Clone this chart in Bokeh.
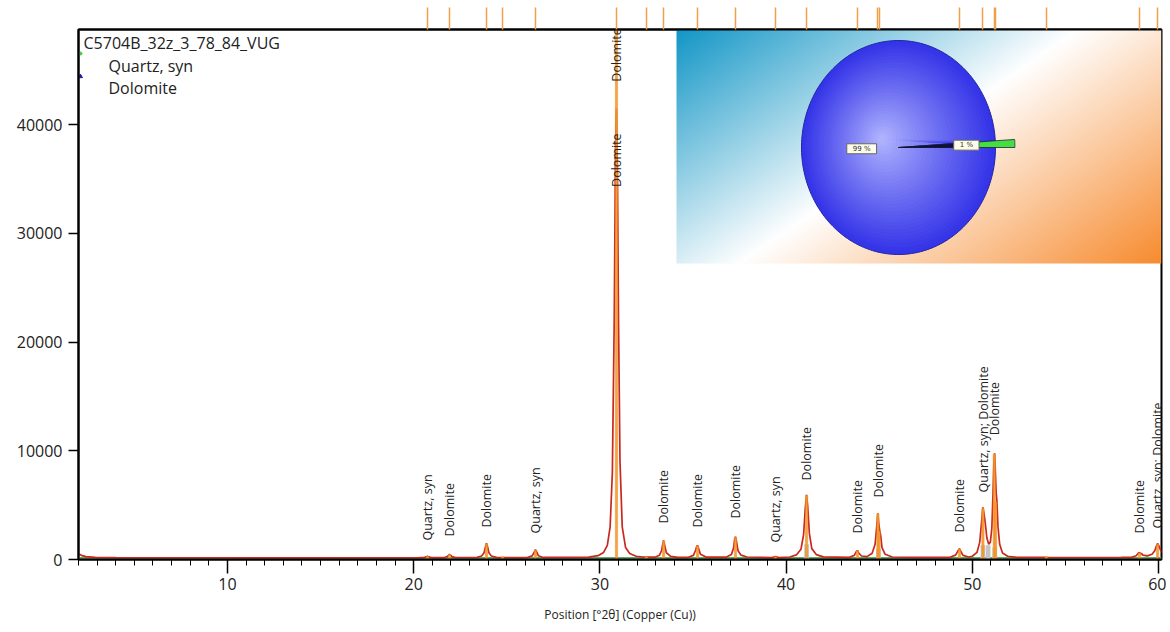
import numpy as np
from bokeh.plotting import figure
from bokeh.models import (Range1d, LinearAxis, FixedTicker, Label, LabelSet, ColumnDataSource,
                          PrintfTickFormatter, CustomJSTickFormatter)
from bokeh.core.properties import value
from bokeh.embed import file_html
from bokeh.resources import INLINE

# ---------------- data ----------------
sample_name = "C5704B_32z_3_78_84_VUG"
phase_names = ["Quartz, syn", "Dolomite"]

pattern_x = [
    2.0, 2.15, 2.4, 2.9, 4.0, 7.0, 10.0, 14.0, 18.0, 20.3,
    20.55, 20.67, 20.74, 20.81, 20.95,
    21.65, 21.8, 21.87, 21.92, 21.98, 22.06, 22.25,
    23.4, 23.65, 23.78, 23.85, 23.91, 23.97, 24.04, 24.17, 24.45,
    25.5,
    26.1, 26.36, 26.46, 26.54, 26.61, 26.7, 26.95,
    28.5, 29.4,
    29.9, 30.2, 30.4, 30.55, 30.67, 30.77, 30.84, 30.89, 30.94, 31.0, 31.08, 31.2, 31.38, 31.6, 31.95, 32.3,
    32.95, 33.2, 33.32, 33.38, 33.42, 33.48, 33.57, 33.8, 34.2,
    34.75, 35.02, 35.14, 35.2, 35.24, 35.3, 35.4, 35.7,
    36.8, 37.06, 37.18, 37.24, 37.28, 37.33, 37.42, 37.58, 37.9,
    39.25, 39.43, 39.6,
    40.2, 40.55, 40.8, 40.94, 41.03, 41.1, 41.16, 41.25, 41.38, 41.62, 42.0,
    43.4, 43.66, 43.77, 43.83, 43.9, 44.05,
    44.35, 44.62, 44.78, 44.87, 44.93, 44.98, 45.03, 45.08, 45.15, 45.32, 45.7,
    47.0,
    48.8, 49.1, 49.23, 49.31, 49.38, 49.5, 49.8,
    50.0, 50.25, 50.4, 50.5, 50.57, 50.63, 50.7, 50.78, 50.88, 50.97, 51.05, 51.11, 51.16, 51.2, 51.24,
    51.28, 51.32, 51.38, 51.47, 51.62, 51.9, 52.4,
    54.0, 56.0, 58.0,
    58.55, 58.8, 58.92, 58.98, 59.03, 59.08, 59.16, 59.4,
    59.65, 59.8, 59.9, 59.95, 60.02, 60.1, 60.2,
]
pattern_y = [
    560, 380, 260, 190, 165, 160, 160, 155, 160, 165,
    180, 240, 300, 240, 180,
    180, 260, 380, 470, 400, 270, 185,
    190, 320, 620, 1100, 1500, 1150, 620, 320, 200,
    170,
    180, 330, 620, 900, 680, 340, 190,
    190, 220,
    350, 650, 1300, 3000, 8000, 22000, 38000, 41500, 36000, 22000, 9000, 3000, 1100, 550, 300, 230,
    210, 400, 850, 1450, 1750, 1300, 620, 280, 200,
    200, 380, 850, 1200, 1300, 1000, 480, 220,
    220, 450, 1050, 1900, 2100, 1700, 800, 400, 230,
    175, 260, 175,
    230, 420, 950, 2300, 4700, 5950, 4900, 2400, 1000, 450, 240,
    200, 380, 720, 830, 600, 320,
    260, 580, 1400, 3100, 4240, 3200, 2650, 2200, 1100, 480, 230,
    190,
    200, 400, 780, 1000, 760, 380, 230,
    300, 650, 1600, 3500, 4800, 4200, 3300, 2000, 1400, 1600, 2900, 6000, 9000, 9770, 8000,
    6200, 5400, 3000, 1400, 600, 300, 200,
    190, 185, 190,
    200, 340, 600, 650, 520, 560, 400, 330,
    480, 800, 1300, 1470, 1250, 900, 650,
]
assert len(pattern_x) == len(pattern_y)

background_x = [2.0, 60.16]
background_y = [140, 140]

ref_pos = [20.74, 21.92, 23.91, 24.77, 26.54, 30.89, 32.50, 33.42, 35.24, 37.28, 39.43,
           41.10, 43.83, 44.93, 44.99, 49.31, 50.57, 51.18, 51.25, 53.97, 58.98, 59.95]
ref_int = [280, 450, 1450, 250, 850, 48760, 250, 1700, 1250, 2050, 250,
           5900, 800, 4200, 2600, 950, 4700, 9700, 5300, 250, 600, 1400]

grey_pos = [41.10, 44.96, 50.57, 50.85, 51.20]
grey_int = [1400, 1000, 1300, 1300, 1100]

label_pos = [20.74, 21.92, 23.91, 26.54, 30.89, 30.89, 33.42, 35.24, 37.28, 39.43,
             41.10, 43.83, 44.96, 49.31, 50.58, 51.20, 58.98, 59.95]
label_text = ["Quartz, syn", "Dolomite", "Dolomite", "Quartz, syn", "Dolomite", "Dolomite",
              "Dolomite", "Dolomite", "Dolomite", "Quartz, syn", "Dolomite", "Dolomite",
              "Dolomite", "Dolomite", "Quartz, syn; Dolomite", "Dolomite", "Dolomite",
              "Quartz, syn; Dolomite"]
label_y = [270, 640, 1470, 920, 42490, 32810, 1840, 1470, 2300, 90,
           5800, 920, 4230, 1010, 4700, 9950, 920, 1380]

pie_share = [99, 1]
pie_text = ["99 %", "1 %"]

x_ticks = [10, 20, 30, 40, 50, 60]
y_ticks = [0, 10000, 20000, 30000, 40000]

# ---------------- geometry ----------------
X0, X1 = 2.0, 60.16
Y0, Y1 = 0, 48760
FL, FR, FT, FB = 78, 1161, 29, 559   # frame edges in picture px


def X(px):
    return X0 + (px - FL) * (X1 - X0) / (FR - FL)


def Y(py):
    return Y0 + (FB - py) * (Y1 - Y0) / (FB - FT)


FONT = "Open Sans"

p = figure(width=1166, height=630, x_range=Range1d(X0, X1), y_range=Range1d(Y0, Y1),
           output_backend="svg", toolbar_location=None,
           min_border_left=FL, min_border_right=1166 - FR, min_border_top=FT,
           min_border_bottom=630 - FB)
p.xgrid.visible = False
p.ygrid.visible = False
p.outline_line_color = "black"
p.outline_line_width = 2
p.outline_line_alpha = 1
p.background_fill_color = "white"
p.border_fill_color = "white"

# x axis
p.xaxis.ticker = FixedTicker(ticks=x_ticks, minor_ticks=list(range(2, 61)))
p.xaxis.major_tick_out = 14
p.xaxis.major_tick_in = 0
p.xaxis.minor_tick_out = 6
p.xaxis.minor_tick_in = 0
p.xaxis.axis_line_width = 2
p.xaxis.major_tick_line_width = 1.5
p.xaxis.major_label_text_font = FONT
p.xaxis.major_label_text_font_size = "16px"
p.xaxis.major_label_text_color = "#222222"
p.xaxis.major_label_standoff = 4
p.xaxis.axis_label = "Position [°2θ] (Copper (Cu))"
p.xaxis.axis_label_text_font = FONT
p.xaxis.axis_label_text_font_size = "12px"
p.xaxis.axis_label_text_font_style = "normal"
p.xaxis.axis_label_text_color = "#222222"
p.xaxis.axis_label_standoff = 13

# y axis
p.yaxis.ticker = FixedTicker(ticks=y_ticks)
p.yaxis.formatter = PrintfTickFormatter(format="%d")
p.yaxis.major_tick_out = 10
p.yaxis.major_tick_in = 0
p.yaxis.minor_tick_line_color = None
p.yaxis.axis_line_width = 2
p.yaxis.major_tick_line_width = 1.5
p.yaxis.major_label_text_font = FONT
p.yaxis.major_label_text_font_size = "16px"
p.yaxis.major_label_text_color = "#222222"
p.yaxis.major_label_standoff = 6

# top reference tick marks (no labels)
top_axis = LinearAxis(ticker=FixedTicker(ticks=ref_pos), major_tick_out=22, major_tick_in=0,
                      minor_tick_line_color=None,
                      formatter=CustomJSTickFormatter(code="return ''"),
                      major_label_text_font_size="1px",
                      major_label_standoff=0, major_tick_line_color="#f0a048",
                      major_tick_line_width=1.5, axis_line_color="black", axis_line_width=2)
p.add_layout(top_axis, "above")

# ---------------- pattern ----------------
p.line(background_x, background_y, color="#62a862", line_width=2)
p.vbar(x=grey_pos, top=grey_int, bottom=0, width=0.25, fill_color="#c4c4c4", line_color=None)
p.line(pattern_x, pattern_y, color="#c8281e", line_width=1.7)
p.vbar(x=ref_pos, top=ref_int, bottom=0, width=0.12, fill_color="#f39a2e",
       line_color="#f08a20", line_width=0.5, fill_alpha=0.9)

# ---------------- inset: gradient background ----------------
IL, IB = 676, 263
H, W = 117, 243
cols = (np.arange(W) + 0.5) * (FR - IL) / W
rows = (np.arange(H) + 0.5) * (IB - FT) / H
PX, PY = np.meshgrid(IL + cols, IB - rows)
t = (PX - IL) * 234 + (PY - FT) * 340
t = t / t.max()
tw = 0.49
teal = np.array([18, 150, 198], dtype=float)
orange = np.array([247, 140, 48], dtype=float)
white = np.array([255, 255, 255], dtype=float)
s1 = np.clip(t / tw, 0, 1)[..., None]
s2 = np.clip((t - tw) / (1 - tw), 0, 1)[..., None]
rgb = np.where(t[..., None] < tw, teal + (white - teal) * s1, white + (orange - white) * s2)
rgba = np.empty((H, W, 4), dtype=np.uint8)
rgba[..., :3] = np.clip(rgb, 0, 255).astype(np.uint8)
rgba[..., 3] = 255
img = rgba.view(dtype=np.uint32).reshape((H, W))
p.image_rgba(image=[img], x=X(IL), y=Y(IB), dw=X(FR) - X(IL), dh=Y(FT) - Y(IB))

# ---------------- inset: pie ----------------
CX, CY, RX, RY = 898, 147, 97, 107
p.extra_x_ranges = {"pie_x": Range1d((FL - CX) / RX, (FR - CX) / RX)}
p.extra_y_ranges = {"pie_y": Range1d(-(FB - CY) / RY, (CY - FT) / RY)}

fracs = np.array(pie_share, dtype=float) / sum(pie_share)
small_i, big_i = 1, 0
a_small = (0.0, fracs[small_i] * 2 * np.pi)
a_big = (a_small[1], 2 * np.pi)


def wedge(a0, a1, r, n=200):
    th = np.linspace(a0, a1, n)
    return np.concatenate([[0.0], r * np.cos(th)]), np.concatenate([[0.0], r * np.sin(th)])


bx, by = wedge(*a_big, 1.0)
layers_x, layers_y, layer_cols = [], [], []
edge_c = np.array([52, 52, 232], dtype=float)
cent_c = np.array([182, 186, 255], dtype=float)
off = np.array([-0.18, 0.08])
for sc in np.linspace(1.0, 0.04, 32):
    layers_x.append(list(off[0] * (1 - sc) + sc * bx))
    layers_y.append(list(off[1] * (1 - sc) + sc * by))
    c = cent_c + (edge_c - cent_c) * sc ** 0.9
    layer_cols.append("#%02x%02x%02x" % tuple(int(v) for v in c))
p.patches(layers_x, layers_y, fill_color=layer_cols, line_color=None,
          x_range_name="pie_x", y_range_name="pie_y")
p.patch(list(bx), list(by), fill_color=None, line_color="#2424a0", line_width=1,
        x_range_name="pie_x", y_range_name="pie_y")

sx, sy = wedge(*a_small, 1.2, 20)
p.patch(list(sx), list(sy), fill_color="#44dd44", line_color="#1a2a30", line_width=0.8,
        x_range_name="pie_x", y_range_name="pie_y")
dx, dy = wedge(*a_small, 0.78, 20)
p.patch(list(dx), list(dy), fill_color="#10103a", line_color="#10103a", line_width=0.6,
        x_range_name="pie_x", y_range_name="pie_y")

mids = [(a_big[0] + a_big[1]) / 2, (a_small[0] + a_small[1]) / 2]
radii = [0.38, 0.70]
for txt, m, r in zip([pie_text[big_i], pie_text[small_i]], mids, radii):
    p.add_layout(Label(x=r * np.cos(m), y=r * np.sin(m), text=txt,
                       x_range_name="pie_x", y_range_name="pie_y",
                       text_font="DejaVu Sans", text_font_size="7px", text_color="#333333",
                       text_align="center", text_baseline="middle",
                       background_fill_color="#fdfbea", border_line_color="#666666",
                       border_line_width=1,
                       padding=dict(left=6, right=6, top=1, bottom=1)))

# ---------------- peak labels ----------------
gap = 16 * (Y1 - Y0) / (FB - FT)
lab_src = ColumnDataSource(dict(x=label_pos, y=[v + gap for v in label_y], text=label_text))
p.add_layout(LabelSet(x="x", y="y", text="text", source=lab_src, angle=np.pi / 2,
                      text_align="left", text_baseline="middle", text_font=value(FONT),
                      text_font_size=value("12.5px"), text_color=value("#222222")))

# ---------------- legend ----------------
p.add_layout(Label(x=X(83), y=Y(31), text=sample_name, text_font=FONT, text_font_size="16px",
                   text_color="#222222", text_align="left", text_baseline="top"))
for i, name in enumerate(phase_names):
    p.add_layout(Label(x=X(108), y=Y(54 + 22 * i), text=name, text_font=FONT,
                       text_font_size="16px", text_color="#222222",
                       text_align="left", text_baseline="top"))
p.scatter(x=[X(80)], y=[Y(53)], marker="circle", size=3, color="#44cc44")
p.scatter(x=[X(80)], y=[Y(76)], marker="triangle", size=4, color="#2020a0")

open("out.html", "w").write(file_html(p, INLINE))
